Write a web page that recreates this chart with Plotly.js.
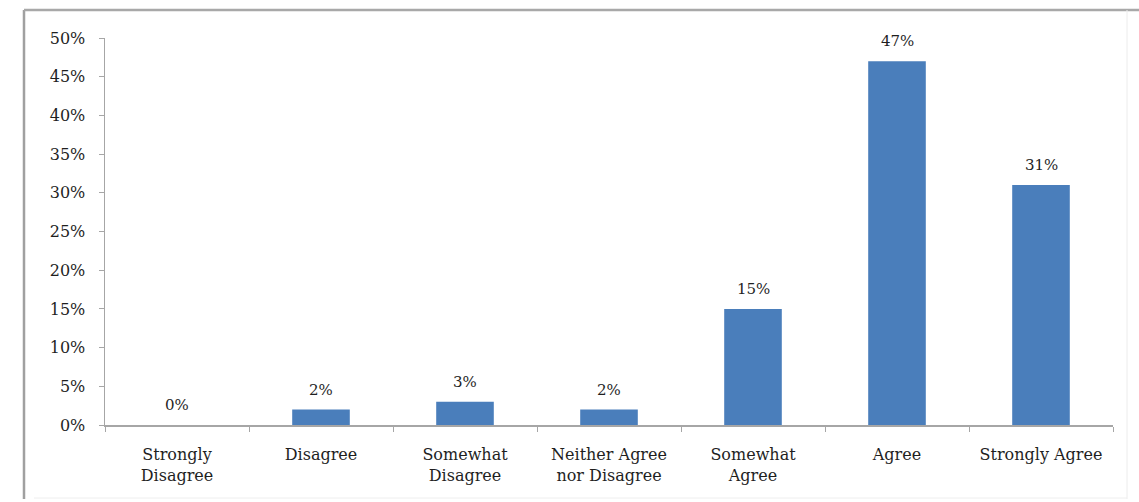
<!DOCTYPE html>
<html>
<head>
<meta charset="utf-8">
<script src="https://cdn.plot.ly/plotly-3.0.1.min.js"></script>
<style>
  html, body { margin: 0; padding: 0; background: #fff; }
  #chart { width: 1139px; height: 502px; }
</style>
</head>
<body>
<div id="chart"></div>
<script>
const categories = ["Strongly<br>Disagree", "Disagree", "Somewhat<br>Disagree", "Neither Agree<br>nor Disagree", "Somewhat<br>Agree", "Agree", "Strongly Agree"];
const values = [0, 2, 3, 2, 15, 47, 31];
const valueLabels = ["0%", "2%", "3%", "2%", "15%", "47%", "31%"];

const fontFamily = "DejaVu Serif, Cambria, serif";
const textColor = "#1f1f1f";
const axisColor = "#a6a6a6";

const trace = {
  type: "bar",
  x: categories,
  y: values,
  marker: { color: "#4a7ebb", line: { width: 0 } },
  hoverinfo: "skip"
};

const annotations = categories.map((c, i) => ({
  x: c, y: values[i], xref: "x", yref: "y",
  text: valueLabels[i], showarrow: false,
  yanchor: "middle", yshift: 20,
  font: { family: fontFamily, size: 15, color: textColor }
}));

const L = 105, R = 26, T = 38, B = 77, W = 1139, H = 502;
const pw = W - L - R, ph = H - T - B;
const px = v => (v - L) / pw;
const py = v => (H - B - v) / ph;

const shapes = [
  { type: "line", xref: "paper", yref: "paper", x0: px(24), x1: px(24), y0: py(499), y1: py(10), line: { color: "#a0a0a0", width: 2.5 } },
  { type: "line", xref: "paper", yref: "paper", x0: px(24), x1: px(1139), y0: py(10), y1: py(10), line: { color: "#a8a8a8", width: 2.5 } },
  { type: "line", xref: "paper", yref: "paper", x0: px(1127), x1: px(1127), y0: py(499), y1: py(10), line: { color: "#ececec", width: 1 } },
  { type: "line", xref: "paper", yref: "paper", x0: px(34), x1: px(1127), y0: py(498), y1: py(498), line: { color: "#eeeeee", width: 1 } }
];

const layout = {
  width: W, height: H,
  margin: { l: L, r: R, t: T, b: B },
  paper_bgcolor: "#ffffff", plot_bgcolor: "#ffffff",
  showlegend: false,
  bargap: 0.6,
  xaxis: {
    type: "category",
    showline: true, linecolor: axisColor, linewidth: 1.5,
    ticks: "outside", tickson: "boundaries", ticklen: 5, tickcolor: axisColor,
    ticklabelstandoff: 14,
    tickfont: { family: fontFamily, size: 16, color: textColor },
    showgrid: false, zeroline: false, fixedrange: true
  },
  yaxis: {
    range: [0, 50], dtick: 5, ticksuffix: "%",
    showline: true, linecolor: axisColor, linewidth: 1.5,
    ticks: "outside", ticklen: 5, tickcolor: axisColor,
    ticklabelstandoff: 10,
    tickfont: { family: fontFamily, size: 16, color: textColor },
    showgrid: false, zeroline: false, fixedrange: true
  },
  annotations: annotations,
  shapes: shapes
};

Plotly.newPlot("chart", [trace], layout, { displayModeBar: false, staticPlot: true });
</script>
</body>
</html>
